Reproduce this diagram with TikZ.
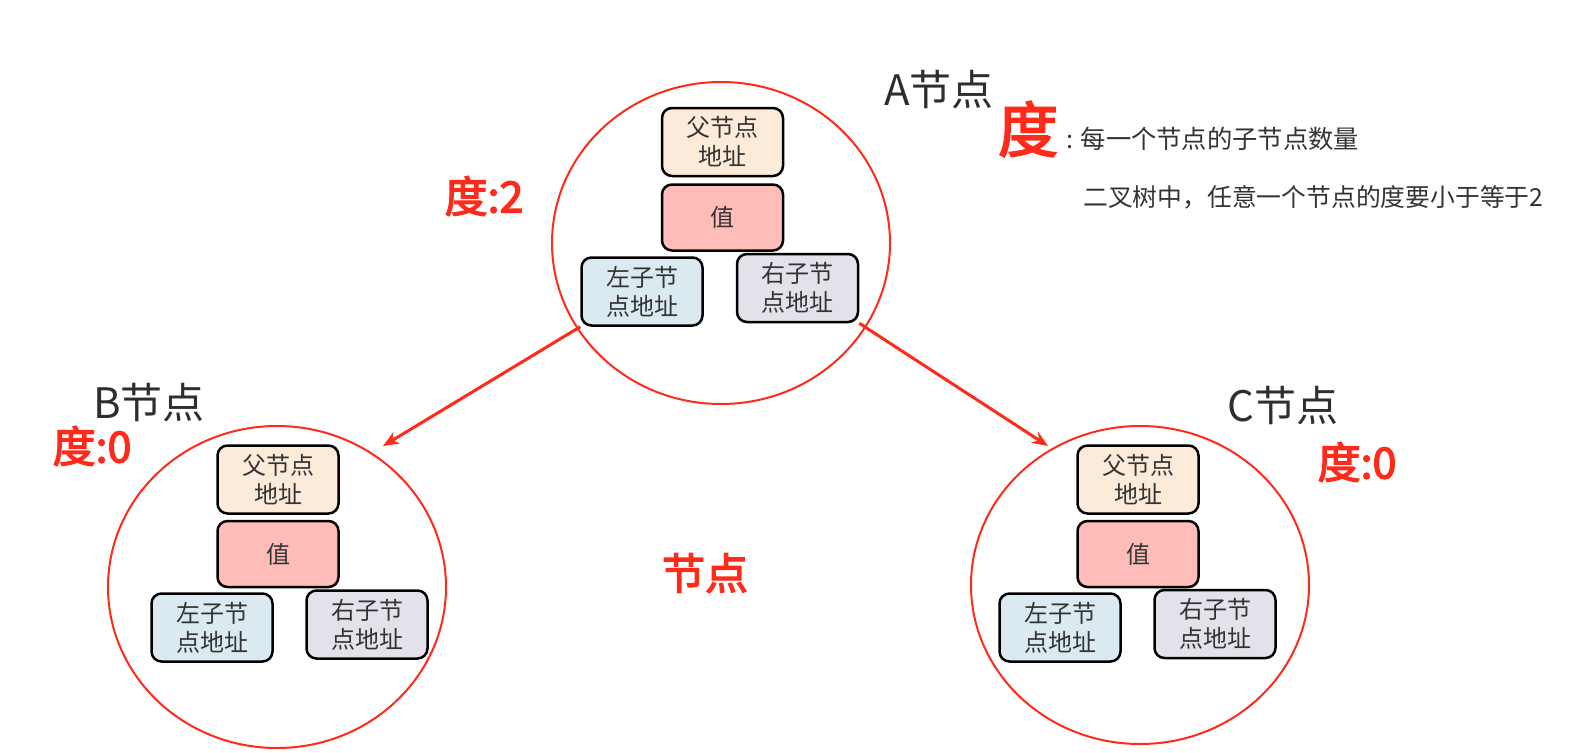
\documentclass[tikz,border=0pt]{standalone}
\usepackage{fontspec}
\newfontfamily\cjk{Noto Sans CJK SC}
\newfontfamily\cjkb[FakeBold=3]{Noto Sans CJK SC}
\usetikzlibrary{shapes.geometric,arrows.meta}
\definecolor{nred}{HTML}{FF2A1A}
\definecolor{ink}{HTML}{333333}
\definecolor{fpar}{HTML}{FDEBDA}
\definecolor{fval}{HTML}{FFBCB8}
\definecolor{flef}{HTML}{DAEAF0}
\definecolor{frig}{HTML}{E4E1EB}
\tikzset{
  ring/.style={draw=nred, line width=2pt, ellipse, minimum width=338pt, minimum height=322pt, inner sep=0pt},
  fbox/.style={draw=black, line width=2.5pt, rounded corners=10pt, minimum width=121pt, minimum height=68pt, inner sep=0pt, align=center, text=ink, font=\cjk\fontsize{24}{29}\selectfont},
  pbox/.style={fbox, fill=fpar},
  vbox/.style={fbox, fill=fval, minimum height=66pt},
  lbox/.style={fbox, fill=flef},
  rbox/.style={fbox, fill=frig},
  title/.style={text=black!82, font=\cjk\fontsize{42}{46}\selectfont, inner sep=0pt},
  deg/.style={text=nred, font=\cjkb\fontsize{43}{47}\selectfont, inner sep=0pt},
  link/.style={draw=nred, line width=3pt, -{Stealth[length=16pt,width=13pt]}},
}
\begin{document}
\begin{tikzpicture}[x=1pt,y=-1pt]
\useasboundingbox (0,0) rectangle (1592,752);
% circles
\node[ring] (A) at (721,243) {};
\node[ring] (B) at (277,587) {};
\node[ring, minimum height=318pt] (C) at (1140,585) {};
% A boxes
\node[pbox] (Ap) at (722.5,142) {父节点\\地址};
\node[vbox] (Av) at (722.5,217.5) {值};
\node[lbox] (Al) at (642,291.5) {左子节\\点地址};
\node[rbox] (Ar) at (797.5,288) {右子节\\点地址};
% B boxes
\node[pbox] (Bp) at (278,479.5) {父节点\\地址};
\node[vbox] (Bv) at (278,554) {值};
\node[lbox] (Bl) at (212,627.5) {左子节\\点地址};
\node[rbox] (Br) at (367,624.5) {右子节\\点地址};
% C boxes
\node[pbox] (Cp) at (1138,479.5) {父节点\\地址};
\node[vbox] (Cv) at (1138,554) {值};
\node[lbox] (Cl) at (1060,627.5) {左子节\\点地址};
\node[rbox] (Cr) at (1215,624) {右子节\\点地址};
% titles
\node[title] (At) at (939,90) {A节点};
\node[title] (Bt) at (149,403) {B节点};
\node[title] (Ct) at (1283,406) {C节点};
\node[deg] (Ad) at (484,196) {度:2};
\node[deg] (Bd) at (92,446) {度:0};
\node[deg] (Cd) at (1357,462) {度:0};
\node[deg] (N) at (705,573) {节点};
% definition
\node[text=nred, font=\cjkb\fontsize{60}{64}\selectfont, inner sep=0pt] (D) at (1028,129) {度};
\node[anchor=west, text=ink, font=\cjk\fontsize{25.3}{30}\selectfont, inner sep=0pt] (D1) at (1066,139) {: 每一个节点的子节点数量};
\node[anchor=west, text=ink, font=\cjk\fontsize{24.8}{30}\selectfont, inner sep=0pt] (D2) at (1083,197) {二叉树中，任意一个节点的度要小于等于2};
% arrows
\coordinate (bend) at (383,446);
\coordinate (cend) at (1048,446);
\draw[link] (Al.south west) -- (bend);
\draw[link] (Ar.south east) -- (cend);
\end{tikzpicture}
\end{document}
